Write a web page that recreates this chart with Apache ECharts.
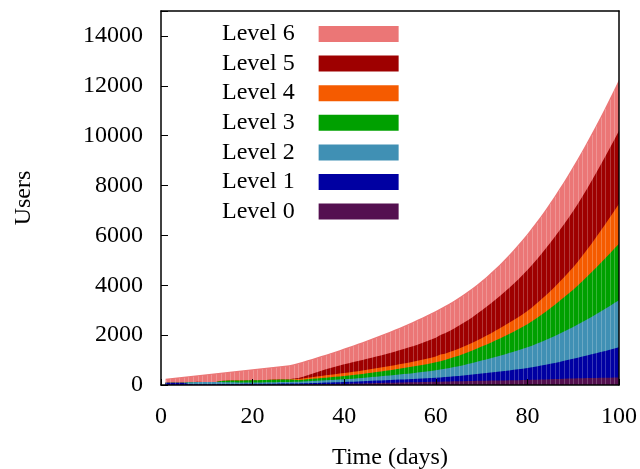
<!DOCTYPE html>
<html><head><meta charset="utf-8">
<script src="https://cdn.jsdelivr.net/npm/echarts@6/dist/echarts.min.js"></script>
<style>html,body{margin:0;padding:0;background:#fff}#c{width:640px;height:469px}</style>
</head><body><div id="c"></div>
<script>
const days = Array.from({length: 100}, (_, i) => i + 1);
const levelNames = ['Level 0','Level 1','Level 2','Level 3','Level 4','Level 5','Level 6'];
const yTicks = [0, 2000, 4000, 6000, 8000, 10000, 12000, 14000];

const level0 = [0,0,2,3,5,6,7,8,9,10, 11,12,13,14,15,16,17,18,19,20, 20,20,20,20,20,20,20,20,20,20,
 23,26,29,32,35,38,41,44,47,50, 53,57,61,65,70, 74,78,82,86,90, 94,98,102,106,110, 114,118,122,126,130,
 134,138,142,146,150, 154,158,162,166,170, 173,176,179,182,185, 188,191,194,197,200,
 206,212,218,224,230, 237,244,251,258,265, 269,273,277,281,285, 288,291,294,297,300];
const level1 = [90,90,90,90,90,30,22,20,20,20, 21,22,23,24,25,26,27,28,29,30, 31,32,33,34,35,36,37,38,39,40,
 43,46,49,52,55,58,61,64,67,70, 73,77,81,85,90, 94,98,102,106,110, 114,118,122,126,131, 136,141,147,153,160,
 170,180,191,202,214, 227,241,256,272,290, 306,323,341,359,378, 397,416,436,457,480,
 505,532,560,589,619, 650,683,717,753,790, 828,867,907,948,990, 1033,1077,1121,1165,1210];
const level2 = [0,0,0,0,0,70,85,90,90,90, 88,85,80,75,70,65,60,55,52,50, 51,52,54,56,58,60,62,64,67,70,
 74,78,82,86,90,94,98,102,106,110, 115,120,126,133,140, 148,156,165,174,183, 193,203,213,224,235, 247,259,272,286,300,
 316,333,352,372,393, 416,440,465,492,520, 547,575,604,634,665, 696,728,761,795,830,
 868,908,949,992,1036, 1081,1127,1174,1222,1270, 1325,1382,1441,1501,1563, 1626,1690,1755,1822,1890];
const level3 = [0,0,0,0,0,0,0,0,0,0, 0,0,40,60,70,75,80,84,87,90, 92,94,96,98,100,100,100,95,80,70,
 75,80,86,92,98, 104,111,118,125,132, 139,146,154,162,170, 178,186,194,203,212, 221,231,241,251,261, 272,283,295,307,320,
 337,356,376,398,421, 446,472,500,529,560, 592,625,659,694,730, 767,805,844,886,930,
 978,1029,1082,1137,1194, 1252,1312,1373,1436,1500, 1570,1642,1716,1792,1869, 1947,2026,2106,2187,2270];
const level4 = [0,0,0,0,0,0,0,15,0,0, 0,0,0,0,0,0,15,0,0,0, 0,0,0,0,10,0,0,10,30,40,
 50,60,69,78,86, 94,101,108,114,120, 125,130,134,137,140, 145,150,155,160,166, 172,178,184,190,196, 202,209,216,223,230,
 265,250,259,268,278, 288,299,311,325,340, 355,371,388,406,425, 445,465,486,507,530,
 556,585,616,650,686, 724,764,806,851,900, 955,1015,1079,1146,1216, 1289,1364,1441,1520,1600];
const level5 = [0,0,0,0,0,0,0,0,0,0, 0,0,0,0,0,0,0,0,0,0, 0,0,0,0,0,0,0,0,20,40,
 68,102,138,174,208, 240,270,298,324,348, 370,390,408,424,440, 456,472,489,506,524, 542,561,581,602,624, 648,673,700,729,760,
 788,818,849,882,916, 952,989,1028,1069,1110, 1153,1198,1245,1294,1345, 1399,1455,1513,1575,1640,
 1700,1760,1821,1882,1943, 2004,2065,2126,2188,2250, 2314,2379,2445,2512,2580, 2649,2718,2788,2859,2930];
const level6 = [160,180,198,217,235,244,256,257,291,310, 330,351,334,337,350,368,371,405,423,440, 456,472,487,502,507,534,551,563,575,600,
 601,597,592,588,588, 590,595,603,615,630, 648,667,688,712,735, 759,784,808,832,855, 878,901,925,949,973, 995,1017,1036,1054,1070,
 1056,1091,1102,1113,1123, 1134,1146,1158,1169,1180, 1200,1221,1243,1267,1292, 1321,1353,1387,1420,1450,
 1479,1507,1537,1568,1602, 1636,1671,1709,1746,1785, 1813,1838,1861,1884,1907, 1930,1955,1982,2010,2040];

const levels = [level0, level1, level2, level3, level4, level5, level6];
const colors = ['#541050', '#0000a2', '#4090b4', '#00a000', '#f55b00', '#9e0000', '#eb7676'];
const FONT = 'Liberation Serif';
const FS = 24;

// cumulative tops (stacked), drawn from the top level down so lower levels paint over
const cumulative = [];
levels.forEach((vals, k) => {
  cumulative.push(vals.map((v, i) => v + (k > 0 ? cumulative[k - 1][i] : 0)));
});
const totals = cumulative[cumulative.length - 1];

const series = [];
for (let k = levels.length - 1; k >= 0; k--) {
  series.push({
    name: levelNames[k],
    type: 'line',
    symbol: 'none',
    showSymbol: false,
    lineStyle: { width: 0 },
    areaStyle: { color: colors[k], opacity: 1, origin: 'start' },
    itemStyle: { color: colors[k] },
    data: days.map((d, i) => [d, cumulative[k][i]]),
    z: 2
  });
}
// faint seams between the daily segments, as in the original rendering
series.push({
  type: 'custom',
  name: 'seams',
  z: 3,
  silent: true,
  data: days.map((d, i) => [d, totals[i]]),
  renderItem: (params, api) => {
    const p0 = api.coord([api.value(0), 0]);
    const p1 = api.coord([api.value(0), api.value(1)]);
    const x = Math.round(p0[0]) + 0.5;
    return {
      type: 'line',
      shape: { x1: x, y1: p0[1], x2: x, y2: p1[1] + 1 },
      style: { stroke: 'rgba(255,255,255,0.22)', lineWidth: 1 }
    };
  }
});

const chart = echarts.init(document.getElementById('c'), null, { renderer: 'canvas' });
chart.setOption({
  animation: false,
  backgroundColor: '#fff',
  textStyle: { fontFamily: FONT, color: '#000' },
  grid: { left: 161, right: 21, top: 11, bottom: 84, show: false, outerBoundsMode: 'none', containLabel: false },
  legend: {
    data: levelNames.slice().reverse(),
    orient: 'vertical',
    left: 222, top: 22,
    padding: 0,
    align: 'right',
    itemWidth: 80, itemHeight: 16,
    itemGap: 5.6,
    selectedMode: false,
    icon: 'rect',
    textStyle: { fontFamily: FONT, fontSize: FS, color: '#000', padding: [0, 19, 0, 0] }
  },
  xAxis: [{
    type: 'value', min: 0, max: 100, interval: 20, z: 10,
    name: 'Time (days)', nameLocation: 'middle', nameGap: 61,
    nameTextStyle: { fontFamily: FONT, fontSize: FS, color: '#000' },
    axisLine: { show: true, lineStyle: { color: '#000', width: 1.5 } },
    axisTick: { show: true, inside: true, length: 6, lineStyle: { color: '#000', width: 1 } },
    axisLabel: { fontFamily: FONT, fontSize: FS, color: '#000', margin: 20 },
    splitLine: { show: false }
  }, {
    type: 'value', min: 0, max: 100, position: 'top', z: 10,
    axisLine: { show: true, onZero: false, lineStyle: { color: '#000', width: 1.5 } },
    axisTick: { show: false }, axisLabel: { show: false }, splitLine: { show: false }
  }],
  yAxis: [{
    type: 'value', min: 0, max: 15000, interval: 2000, z: 10,
    name: 'Users', nameLocation: 'middle', nameGap: 125, nameRotate: 90,
    nameTextStyle: { fontFamily: FONT, fontSize: FS, color: '#000' },
    axisLine: { show: true, lineStyle: { color: '#000', width: 1.5 } },
    axisTick: { show: true, inside: true, length: 7, lineStyle: { color: '#000', width: 1 } },
    axisLabel: { fontFamily: FONT, fontSize: FS, color: '#000', margin: 18,
      formatter: v => yTicks.indexOf(v) >= 0 ? String(v) : '' },
    splitLine: { show: false }
  }, {
    type: 'value', min: 0, max: 15000, position: 'right', z: 10,
    axisLine: { show: true, onZero: false, lineStyle: { color: '#000', width: 1.5 } },
    axisTick: { show: false }, axisLabel: { show: false }, splitLine: { show: false }
  }],
  series: series
});
</script></body></html>
